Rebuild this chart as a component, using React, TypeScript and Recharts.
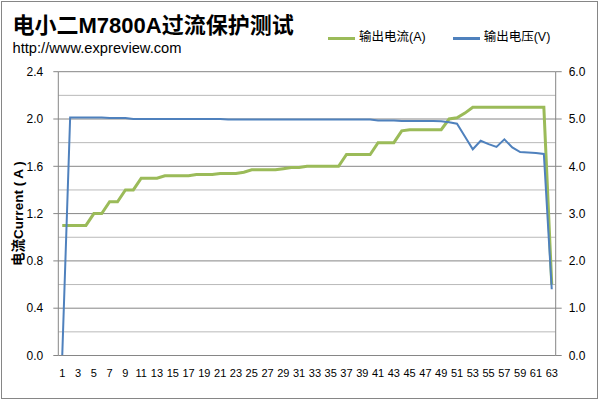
import React from 'react';
import { LineChart, Line, XAxis, YAxis, ReferenceLine, Legend } from 'recharts';

const categories = [
  1, 2, 3, 4, 5, 6, 7, 8, 9, 10, 11, 12, 13, 14, 15, 16, 17, 18, 19, 20, 21,
  22, 23, 24, 25, 26, 27, 28, 29, 30, 31, 32, 33, 34, 35, 36, 37, 38, 39, 40, 41, 42,
  43, 44, 45, 46, 47, 48, 49, 50, 51, 52, 53, 54, 55, 56, 57, 58, 59, 60, 61, 62, 63,
];

const currentA = [
  1.1, 1.1, 1.1, 1.1, 1.2, 1.2, 1.3, 1.3, 1.4, 1.4,
  1.5, 1.5, 1.5, 1.52, 1.52, 1.52, 1.52, 1.53, 1.53, 1.53,
  1.54, 1.54, 1.54, 1.55, 1.57, 1.57, 1.57, 1.57, 1.58, 1.59,
  1.59, 1.6, 1.6, 1.6, 1.6, 1.6, 1.7, 1.7, 1.7, 1.7,
  1.8, 1.8, 1.8, 1.9, 1.91, 1.91, 1.91, 1.91, 1.91, 2.0,
  2.01, 2.05, 2.1, 2.1, 2.1, 2.1, 2.1, 2.1, 2.1, 2.1,
  2.1, 2.1, 0.6,
];

const voltageV = [
  0, 5.03, 5.03, 5.03, 5.03, 5.03, 5.02, 5.02, 5.02, 5.0,
  5.0, 5.0, 5.0, 5.0, 5.0, 5.0, 5.0, 5.0, 5.0, 5.0,
  5.0, 4.99, 4.99, 4.99, 4.99, 4.99, 4.99, 4.99, 4.99, 4.99,
  4.99, 4.99, 4.99, 4.99, 4.99, 4.99, 4.99, 4.99, 4.99, 4.99,
  4.97, 4.97, 4.97, 4.96, 4.96, 4.96, 4.96, 4.96, 4.95, 4.93,
  4.9, 4.63, 4.36, 4.54, 4.47, 4.41, 4.57, 4.4, 4.3, 4.29,
  4.28, 4.26, 1.4,
];

const leftTicks = [0, 0.4, 0.8, 1.2, 1.6, 2.0, 2.4];
const rightTicks = [0, 1, 2, 3, 4, 5, 6];
const majorGrid = [0.4, 0.8, 1.2, 1.6, 2.0, 2.4];
const minorGrid = [0.2, 0.6, 1.0, 1.4, 1.8, 2.2];

const currentName = '输出电流(A)';
const voltageName = '输出电压(V)';
const legendOrder = ['current', 'voltage'];
const titleText = '电小二M7800A过流保护测试';
const subtitleText = 'http://www.expreview.com';
const yAxisTitle = '电流Current ( A )';

const data = categories.map((c, i) => ({ cat: c, current: currentA[i], voltage: voltageV[i] }));

const FONT = '"Liberation Sans", Arial, "Noto Sans CJK SC", sans-serif';
const AXIS = '#868686';

const renderLegend = (props: any) => {
  const items = [...(props.payload || [])].sort(
    (a: any, b: any) => legendOrder.indexOf(a.dataKey) - legendOrder.indexOf(b.dataKey)
  );
  return (
    <div style={{ display: 'flex', alignItems: 'center', fontFamily: FONT, fontSize: 12.5, color: '#000', height: 14, lineHeight: '14px' }}>
      {items.map((it: any, i: number) => (
        <div key={i} style={{ display: 'flex', alignItems: 'center', marginRight: 27 }}>
          <span style={{ display: 'inline-block', width: 27, height: 3, background: it.color, marginRight: 4, position: 'relative', top: 2 }} />
          <span>{it.value}</span>
        </div>
      ))}
    </div>
  );
};

export default function App() {
  return (
    <div style={{ position: 'absolute', left: 0, top: 0, width: 600, height: 401, background: '#fff' }}>
      <LineChart width={600} height={401} data={data} margin={{ top: 71.7, right: 0, bottom: 15.5, left: 0 }}>
        <XAxis
          dataKey="cat"
          interval={1}
          padding={{ left: 3.95, right: 3.95 }}
          tickLine={false}
          axisLine={{ stroke: AXIS }}
          height={30}
          tickSize={6}
          tickMargin={8}
          tick={{ fontSize: 11, fill: '#000', fontFamily: FONT }}
        />
        <YAxis
          yAxisId="left"
          domain={[0, 2.4]}
          ticks={leftTicks}
          width={58.3}
          tickFormatter={(v: number) => v.toFixed(1)}
          tickSize={5}
          tickMargin={10}
          axisLine={{ stroke: AXIS }}
          tickLine={{ stroke: AXIS }}
          tick={{ fontSize: 12, fill: '#000', fontFamily: FONT }}
        />
        <YAxis
          yAxisId="right"
          orientation="right"
          domain={[0, 6]}
          ticks={rightTicks}
          width={44.3}
          tickFormatter={(v: number) => v.toFixed(1)}
          tickSize={6}
          tickMargin={7}
          axisLine={{ stroke: AXIS }}
          tickLine={{ stroke: AXIS }}
          tick={{ fontSize: 12, fill: '#000', fontFamily: FONT }}
        />
        {minorGrid.map((v) => (
          <ReferenceLine key={'mi' + v} yAxisId="left" y={v} stroke="#b9b9b9" strokeWidth={1} />
        ))}
        {majorGrid.map((v) => (
          <ReferenceLine key={'ma' + v} yAxisId="left" y={v} stroke={AXIS} strokeWidth={1} />
        ))}
        <Legend
          verticalAlign="middle"
          align="center"
          layout="horizontal"
          content={renderLegend}
          wrapperStyle={{ top: 29.5, left: 328, width: 260, height: 14 }}
        />
        <Line
          yAxisId="left"
          type="linear"
          dataKey="current"
          name={currentName}
          stroke="#9bbb59"
          strokeWidth={3}
          dot={false}
          activeDot={false}
          isAnimationActive={false}
        />
        <Line
          yAxisId="right"
          type="linear"
          dataKey="voltage"
          name={voltageName}
          stroke="#4f81bd"
          strokeWidth={2}
          dot={false}
          activeDot={false}
          isAnimationActive={false}
        />
      </LineChart>
      <svg width={600} height={401} style={{ position: 'absolute', left: 0, top: 0, pointerEvents: 'none' }}>
        <rect x={1.5} y={1.5} width={596} height={397} fill="none" stroke={AXIS} strokeWidth={1} />
        <text x={12.5} y={32.5} fontSize={22} fontWeight="bold" fontFamily={FONT} fill="#000">
          {titleText}
        </text>
        <text x={12.5} y={52.5} fontSize={14.7} fontFamily={FONT} fill="#000">
          {subtitleText}
        </text>
        <text
          transform="translate(23, 213.5) rotate(-90)"
          textAnchor="middle"
          fontSize={13.5}
          fontWeight="bold"
          fontFamily={FONT}
          fill="#000"
        >
          {yAxisTitle}
        </text>
      </svg>
    </div>
  );
}
